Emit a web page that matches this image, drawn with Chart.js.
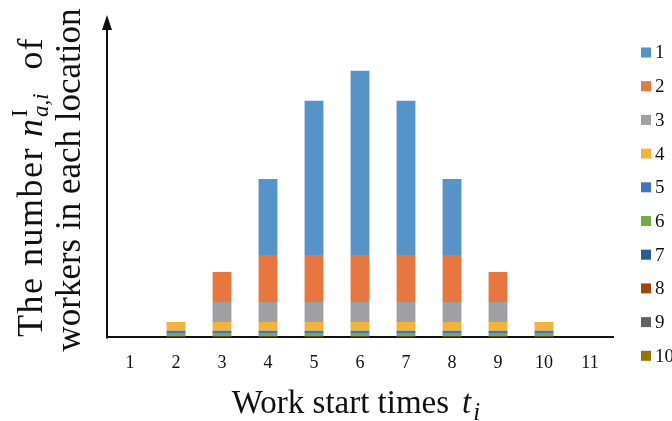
<!DOCTYPE html>
<html>
<head>
<meta charset="utf-8">
<script src="https://cdn.jsdelivr.net/npm/chart.js@4.4.1/dist/chart.umd.min.js"></script>
<style>
  html, body { margin: 0; padding: 0; background: #fff; }
  #wrap { width: 672px; height: 421px; }
</style>
</head>
<body>
<div id="wrap"><canvas id="chart" width="672" height="421"></canvas></div>
<script>
// work start times t_i
const startTimes = ['1', '2', '3', '4', '5', '6', '7', '8', '9', '10', '11'];

// number of workers per location (stacked)
const loc1 = [0, 0, 0, 76, 154, 184, 154, 76, 0, 0, 0];
const loc2 = [0, 0, 30, 47, 47, 47, 47, 47, 30, 0, 0];
const loc3 = [0, 0, 20, 20, 20, 20, 20, 20, 20, 0, 0];
const loc4 = [0, 8.7, 8.7, 8.7, 8.7, 8.7, 8.7, 8.7, 8.7, 8.7, 0];
const loc5 = [0, 3, 3, 3, 3, 3, 3, 3, 3, 3, 0];
const loc6 = [0, 2, 2, 2, 2, 2, 2, 2, 2, 2, 0];
const loc7 = [0, 0.5, 0.5, 0.5, 0.5, 0.5, 0.5, 0.5, 0.5, 0.5, 0];
const loc8 = [0, 0.4, 0.4, 0.4, 0.4, 0.4, 0.4, 0.4, 0.4, 0.4, 0];
const loc9 = [0, 0.4, 0.4, 0.4, 0.4, 0.4, 0.4, 0.4, 0.4, 0.4, 0];
const loc10 = [0, 0.3, 0.3, 0.3, 0.3, 0.3, 0.3, 0.3, 0.3, 0.3, 0];

const locationLabels = ['1', '2', '3', '4', '5', '6', '7', '8', '9', '10'];
const locationColors = ['#5593C8', '#E8773F', '#9FA0A4', '#F5B335', '#4472C4',
                        '#70AD47', '#255E91', '#9E480E', '#636363', '#997300'];
const locationData = [loc1, loc2, loc3, loc4, loc5, loc6, loc7, loc8, loc9, loc10];

const SERIF = "'Liberation Serif', 'Times New Roman', serif";

// draw a row of text runs starting at x0 (left aligned); returns end x
function drawRuns(ctx, runs, x0, baseline) {
  let x = x0;
  runs.forEach(r => {
    x += r.before || 0;
    let w = 0;
    const parts = r.stack || [r];
    parts.forEach(s => {
      ctx.font = s.font;
      ctx.letterSpacing = s.spacing || '0px';
      ctx.fillText(s.text, x, baseline + (s.dy || 0));
      w = Math.max(w, ctx.measureText(s.text).width);
    });
    x += w;
  });
  ctx.letterSpacing = '0px';
  return x;
}

function runsWidth(ctx, runs) {
  let total = 0;
  runs.forEach(r => {
    total += r.before || 0;
    const parts = r.stack || [r];
    total += Math.max(...parts.map(s => {
      ctx.font = s.font;
      ctx.letterSpacing = s.spacing || '0px';
      return ctx.measureText(s.text).width;
    }));
  });
  ctx.letterSpacing = '0px';
  return total;
}

const decorations = {
  id: 'decorations',
  afterDraw(chart) {
    const ctx = chart.ctx;
    const area = chart.chartArea;
    ctx.save();
    ctx.fillStyle = '#111';
    ctx.strokeStyle = '#111';

    // y axis with arrow
    ctx.lineWidth = 2;
    ctx.beginPath();
    ctx.moveTo(area.left, area.bottom + 1);
    ctx.lineTo(area.left, area.top + 12);
    ctx.stroke();
    ctx.beginPath();
    ctx.moveTo(area.left, area.top);
    ctx.lineTo(area.left - 5, area.top + 15);
    ctx.lineTo(area.left + 5, area.top + 15);
    ctx.closePath();
    ctx.fill();

    // x axis title
    ctx.textAlign = 'left';
    ctx.textBaseline = 'alphabetic';
    const xTitle = [
      { text: 'Work start times', font: '33px ' + SERIF },
      { text: 't', font: 'italic 33px ' + SERIF, before: 13 },
      { text: 'i', font: 'italic 25px ' + SERIF, dy: 7, before: 2 }
    ];
    drawRuns(ctx, xTitle, 356 - runsWidth(ctx, xTitle) / 2, 413);

    // y axis title (rotated)
    ctx.save();
    ctx.rotate(-Math.PI / 2);
    drawRuns(ctx, [
      { text: 'The number', font: '36px ' + SERIF, spacing: '1.5px' },
      { text: 'n', font: 'italic 36px ' + SERIF, before: 10 },
      { stack: [
          { text: 'I', font: '23px ' + SERIF, dy: -15 },
          { text: 'a,i', font: 'italic 23px ' + SERIF, dy: 6 }
        ], before: 2 },
      { text: 'of', font: '36px ' + SERIF, before: 24, spacing: '1px' }
    ], -337, 42);
    const line2 = [{ text: 'workers in each location', font: '35px ' + SERIF }];
    drawRuns(ctx, line2, -180 - runsWidth(ctx, line2) / 2, 80);
    ctx.restore();

    // legend
    ctx.textBaseline = 'middle';
    ctx.font = '19px ' + SERIF;
    locationLabels.forEach((label, i) => {
      const cy = 52.5 + i * 33.7;
      ctx.fillStyle = locationColors[i];
      ctx.fillRect(641, cy - 5, 10, 10);
      ctx.fillStyle = '#111';
      ctx.fillText(label, 655, cy + 1);
    });
    ctx.restore();
  }
};

// location 1 sits on top of the stack, so add datasets from 10 down to 1
const datasets = locationData.map((d, i) => ({
  label: locationLabels[i],
  data: d,
  backgroundColor: locationColors[i],
  borderWidth: 0,
  categoryPercentage: 1,
  barPercentage: 0.41
})).reverse();

new Chart(document.getElementById('chart'), {
  type: 'bar',
  data: { labels: startTimes, datasets: datasets },
  options: {
    responsive: false,
    animation: false,
    layout: { padding: { left: 107, right: 59, top: 15, bottom: 32 } },
    plugins: {
      legend: { display: false },
      tooltip: { enabled: false }
    },
    scales: {
      x: {
        stacked: true,
        grid: { display: false, drawTicks: false },
        border: { display: true, color: '#111', width: 2 },
        ticks: { color: '#111', font: { family: SERIF, size: 18 }, padding: 15 }
      },
      y: {
        stacked: true,
        display: false,
        min: 0,
        max: 322
      }
    }
  },
  plugins: [decorations]
});
</script>
</body>
</html>
